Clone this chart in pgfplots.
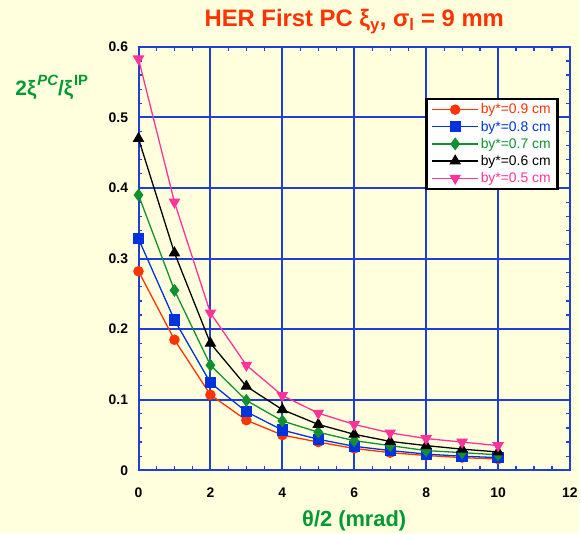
\documentclass[border=0pt]{standalone}
\usepackage{fontspec}
\setmainfont{Liberation Sans}
\usepackage{pgfplots}
\pgfplotsset{compat=1.18}
\definecolor{bg}{HTML}{FFFFDD}
\definecolor{gridblue}{HTML}{1F3FD6}
\definecolor{cred}{HTML}{FF3300}
\definecolor{cblue}{HTML}{0033DD}
\definecolor{cgreen}{HTML}{109030}
\definecolor{cpink}{HTML}{FF3399}
\definecolor{labgreen}{HTML}{009933}
\begin{document}
\begin{tikzpicture}
\fill[bg] (0,0) rectangle (581bp,535bp);
\begin{axis}[
  at={(139bp,63bp)}, anchor=south west,
  scale only axis, width=433bp, height=425bp,
  xmin=0, xmax=12, ymin=0, ymax=0.6,
  xtick={0,2,4,6,8,10,12},
  ytick={0,0.1,0.2,0.3,0.4,0.5,0.6},
  minor x tick num=3, minor y tick num=4,
  tick align=inside,
  major tick length=4bp, minor tick length=4bp,
  xmajorgrids=true, ymajorgrids=true,
  grid style={color=gridblue, line width=2bp},
  major grid style={color=gridblue, line width=2bp},
  axis line style={color=gridblue, line width=2bp},
  tick style={color=gridblue, line width=1.2bp},
  /pgf/number format/assume math mode=true,
  yticklabel style={/pgf/number format/fixed, xshift=-7bp},
  xticklabel style={anchor=base, yshift=-27bp},
  tick label style={font=\bfseries\fontsize{14}{14}\selectfont, text=black},
  title={HER First PC ξ\textsubscript{y}, σ\textsubscript{l} = 9 mm},
  every axis title/.style={at={(axis description cs:0.5,1)}, anchor=base, yshift=20bp,
    font=\bfseries\fontsize{24}{24}\selectfont, text=cred},
  xlabel={θ/2 (mrad)},
  every axis x label/.style={at={(axis description cs:0.5,0)}, anchor=base, yshift=-56bp,
    font=\bfseries\fontsize{22}{22}\selectfont, text=labgreen},
  ylabel={2ξ\kern1bp\raisebox{0.5em}{\fontsize{15}{15}\selectfont\bfseries\itshape PC}/ξ\kern1bp\raisebox{0.5em}{\fontsize{15}{15}\selectfont\bfseries IP}},
  every axis y label/.style={at={(axis description cs:0,0.885)}, anchor=base west, xshift=-127bp,
    font=\bfseries\fontsize{21}{21}\selectfont, text=labgreen},
  every axis plot/.append style={line width=1.3bp},
  legend style={at={(axis description cs:0.665,0.88)}, anchor=north west,
    draw=black, line width=2.5bp, fill=white,
    font=\fontsize{14}{14}\selectfont, row sep=1.6bp, inner xsep=5bp, inner ysep=3bp},
  legend cell align=left,
  legend image code/.code={\draw[mark repeat=2, mark phase=2] plot coordinates {(0bp,0bp)(23bp,0bp)(46bp,0bp)};},
]
\addplot[cred, mark=*, mark size=4.6bp, mark options={fill=cred, draw=cred}] coordinates {
(0,0.282)(1,0.185)(2,0.107)(3,0.071)(4,0.050)(5,0.040)(6,0.031)(7,0.025)(8,0.021)(9,0.018)(10,0.016)};
\addlegendentry{\textcolor{cred}{by*=0.9 cm}}
\addplot[cblue, mark=square*, mark size=5bp, mark options={fill=cblue, draw=cblue}] coordinates {
(0,0.328)(1,0.213)(2,0.124)(3,0.083)(4,0.057)(5,0.044)(6,0.034)(7,0.028)(8,0.023)(9,0.020)(10,0.018)};
\addlegendentry{\textcolor{cblue}{by*=0.8 cm}}
\addplot[cgreen, mark=diamond*, mark size=5.5bp, mark options={fill=cgreen, draw=cgreen}] coordinates {
(0,0.390)(1,0.255)(2,0.149)(3,0.099)(4,0.070)(5,0.054)(6,0.042)(7,0.035)(8,0.028)(9,0.025)(10,0.022)};
\addlegendentry{\textcolor{cgreen}{by*=0.7 cm}}
\addplot[black, mark=triangle*, mark size=5.5bp, mark options={fill=black, draw=black}] coordinates {
(0,0.470)(1,0.308)(2,0.180)(3,0.119)(4,0.086)(5,0.065)(6,0.051)(7,0.041)(8,0.035)(9,0.030)(10,0.026)};
\addlegendentry{\textcolor{black}{by*=0.6 cm}}
\addplot[cpink, mark=triangle*, mark size=5.5bp, mark options={fill=cpink, draw=cpink, rotate=180}] coordinates {
(0,0.583)(1,0.380)(2,0.223)(3,0.149)(4,0.106)(5,0.081)(6,0.065)(7,0.053)(8,0.045)(9,0.040)(10,0.035)};
\addlegendentry{\textcolor{cpink}{by*=0.5 cm}}
\end{axis}
\end{tikzpicture}
\end{document}
